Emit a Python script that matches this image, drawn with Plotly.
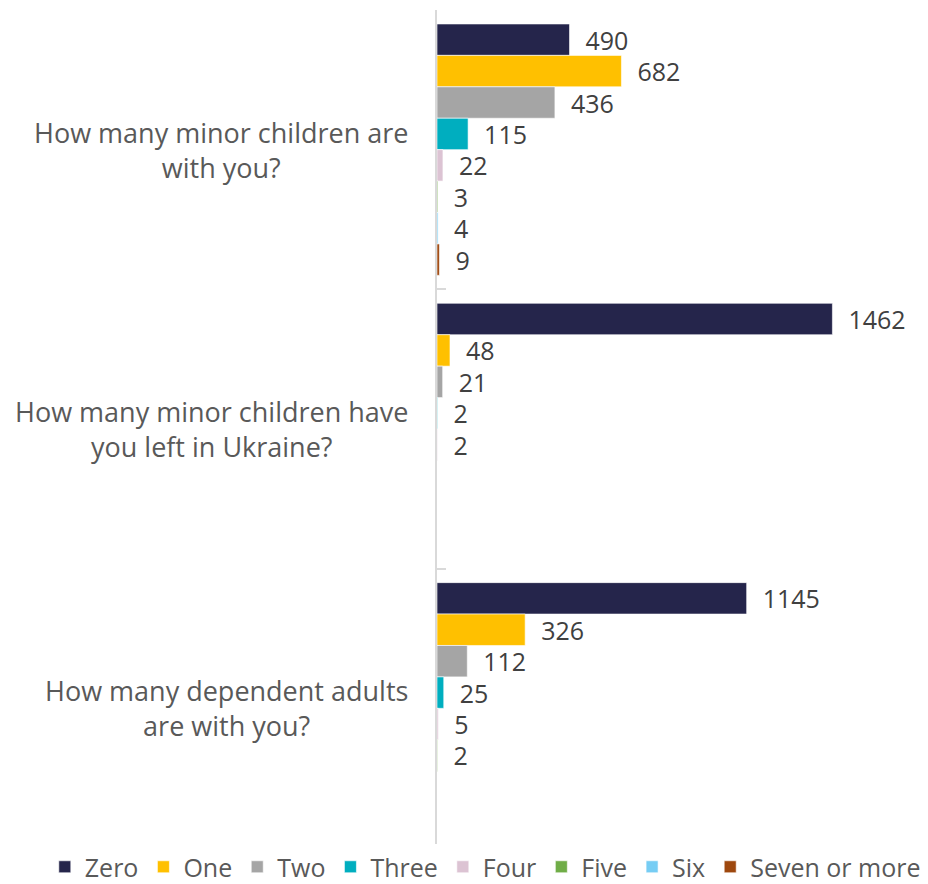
import plotly.graph_objects as go

questions = [
    "How many minor children are<br>with you?",
    "How many minor children have<br>you left in Ukraine?",
    "How many dependent adults<br>are with you?",
]
series_names = ["Zero", "One", "Two", "Three", "Four", "Five", "Six", "Seven or more"]
zero = [490, 1462, 1145]
one = [682, 48, 326]
two = [436, 21, 112]
three = [115, 2, 25]
four = [22, 2, 5]
five = [3, None, 2]
six = [4, None, None]
seven = [9, None, None]
series_values = [zero, one, two, three, four, five, six, seven]
colors = ["#25254B", "#FFC000", "#A5A5A5", "#00AEBF", "#DCC3D3", "#70AD47", "#76CDF4", "#9E480E"]

FONT = "Open Sans"
fig = go.Figure()
for name, vals, col in zip(series_names, series_values, colors):
    fig.add_trace(go.Bar(
        name=name, y=questions, x=vals, orientation="h",
        marker=dict(color=col, line=dict(color="white", width=0.6)),
        text=[("\u00a0\u00a0" + str(v)) if v is not None else "" for v in vals],
        textposition="outside", cliponaxis=False, constraintext="none",
        textfont=dict(family=FONT, size=25, color="#404040"),
        hoverinfo="skip",
    ))

for q in questions:
    fig.add_annotation(
        x=0, xref="x", y=q, yref="y", text=q, showarrow=False,
        xanchor="right", align="center", xshift=-27,
        font=dict(family=FONT, size=27, color="#595959"),
    )

fig.update_layout(
    width=920, height=876,
    margin=dict(l=429, r=5, t=2, b=36, autoexpand=False),
    paper_bgcolor="white", plot_bgcolor="white",
    barmode="group", bargap=0.1, bargroupgap=0,
    showlegend=True,
    legend=dict(
        orientation="h", xref="paper", x=-0.807, xanchor="left",
        y=-0.0227, yanchor="middle", traceorder="normal",
        font=dict(family=FONT, size=25, color="#595959"),
        itemwidth=30, tracegroupgap=0,
    ),
    xaxis=dict(range=[0, 1797], visible=False, showgrid=False, zeroline=False),
    yaxis=dict(
        type="category", autorange="reversed", showticklabels=False,
        tickson="boundaries", ticks="inside", ticklen=9, tickcolor="#D9D9D9", tickwidth=1.5,
        showline=True, linecolor="#D9D9D9", linewidth=2, showgrid=False, zeroline=False,
    ),
)

fig.write_html("out.html")
